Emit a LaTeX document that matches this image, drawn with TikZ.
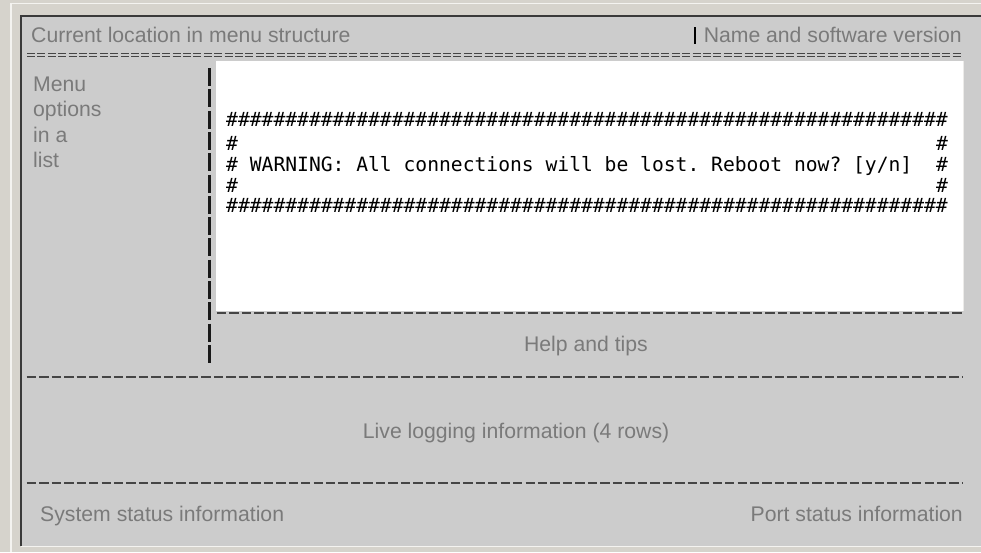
\documentclass[tikz,border=0pt]{standalone}
\usepackage{fontspec}
\setmainfont{Liberation Sans}
\newfontfamily\consolefont{DejaVu Sans Mono}
\definecolor{beige}{HTML}{D6D3CC}
\definecolor{panel}{HTML}{CCCCCC}
\definecolor{txtgray}{HTML}{7A7A7A}
\definecolor{darkedge}{HTML}{3A3A3A}
\definecolor{hilite}{HTML}{F4F3F0}
\definecolor{dashgray}{HTML}{454545}
\newcommand\hashten{\#\#\#\#\#\#\#\#\#\#}
\begin{document}
\begin{tikzpicture}[x=1pt,y=-1pt,
  graytext/.style={text=txtgray,font=\fontsize{21.2}{25.5}\selectfont,inner sep=0pt},
  consoletext/.style={text=black,font=\consolefont\fontsize{19.65}{21}\selectfont\frenchspacing,inner sep=0pt,anchor=base west},
  hdash/.style={draw=dashgray,line width=1.7pt,dash pattern=on 9.4pt off 3.07pt},
  eqline/.style={draw=dashgray,line width=1pt,dash pattern=on 8pt off 2.4pt},
  vbar/.style={draw=black!90,line width=2.3pt,dash pattern=on 18pt off 3.3pt}]
\useasboundingbox (0,0) rectangle (981,552);
% window background and frame
\fill[beige] (0,0) rectangle (981,552);
\draw[hilite,line width=1.2pt] (11,552) -- (11,3.5) -- (981,3.5);
\fill[panel] (21,16) rectangle (981,545.5);
\draw[darkedge,line width=1.8pt] (21,545.5) -- (21,16) -- (981,16);
\draw[hilite,line width=1pt] (21,546.3) -- (981,546.3);
% white console area
\fill[white] (216,60.5) rectangle (962.5,311);
\draw[hilite!80!panel,line width=1.5pt] (963.5,60.5) -- (963.5,311);
% header texts
\node[graytext,anchor=base west] (loc) at (31,42.5) {Current location in menu structure};
\node[graytext,anchor=base east] (name) at (962,42.5) {Name and software version};
\coordinate (bartop) at (695,27);
\coordinate (barbot) at (695,44);
\draw[black,line width=2.4pt] (bartop) -- (barbot);
% double separator
\coordinate (eqAl) at (27,53.2);  \coordinate (eqAr) at (962,53.2);
\coordinate (eqBl) at (27,56.7);  \coordinate (eqBr) at (962,56.7);
\draw[eqline] (eqAl) -- (eqAr);
\draw[eqline] (eqBl) -- (eqBr);
% menu list
\node[graytext,anchor=base west] (m1) at (33,91) {Menu};
\node[graytext,anchor=base west] (m2) at (33,116.5) {options};
\node[graytext,anchor=base west] (m3) at (33,142) {in a};
\node[graytext,anchor=base west] (m4) at (33,167.5) {list};
% vertical bar
\coordinate (vtop) at (209.5,68);
\coordinate (vbot) at (209.5,366);
\draw[vbar] (vtop) -- (vbot);
% console warning
\node[consoletext] (r1) at (226,126) {\hashten\hashten\hashten\hashten\hashten\hashten\#};
\node[consoletext] (r2a) at (226,150) {\#};
\node[consoletext] (r2b) at (935.8,150) {\#};
\node[consoletext] (r3a) at (226,171.5) {\# WARNING: All connections will be lost. Reboot now? [y/n]};
\node[consoletext] (r3b) at (935.8,171.5) {\#};
\node[consoletext] (r4a) at (226,192) {\#};
\node[consoletext] (r4b) at (935.8,192) {\#};
\node[consoletext] (r5) at (226,212) {\hashten\hashten\hashten\hashten\hashten\hashten\#};
% dashed separators
\coordinate (d1l) at (216.7,313.3); \coordinate (d1r) at (962,313.3);
\coordinate (d2l) at (26.7,376.7);  \coordinate (d2r) at (962,376.7);
\coordinate (d3l) at (26.7,482.7);  \coordinate (d3r) at (962,482.7);
\draw[hdash] (d1l) -- (d1r);
\draw[hdash] (d2l) -- (d2r);
\draw[hdash] (d3l) -- (d3r);
% lower texts
\node[graytext,anchor=base] (help) at (586,351.7) {Help and tips};
\node[graytext,anchor=base west] (live) at (362.7,438) {Live logging information (4 rows)};
\node[graytext,anchor=base west] (sys) at (40,521.5) {System status information};
\node[graytext,anchor=base east] (port) at (963,521.5) {Port status information};
\end{tikzpicture}
\end{document}
